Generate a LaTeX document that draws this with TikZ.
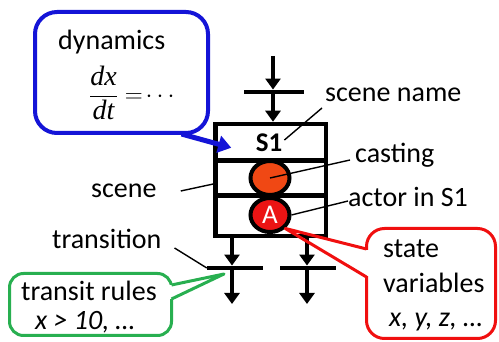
\documentclass[tikz,border=0pt]{standalone}
\usepackage{fontspec}
\setmainfont{Carlito}
\newfontfamily\mathtext{Liberation Serif}
\usetikzlibrary{arrows.meta,shapes.geometric}
\definecolor{noteblue}{RGB}{20,20,215}
\definecolor{notegreen}{RGB}{40,175,80}
\definecolor{notered}{RGB}{240,15,15}
\definecolor{castfill}{RGB}{240,72,20}
\definecolor{actorfill}{RGB}{235,20,20}
\newcommand{\mvar}[1]{\hbox{\mathtext\itshape #1}}
\tikzset{
  txt/.style={anchor=base west,inner sep=0pt,font=\fontsize{28}{32}\selectfont},
  itxt/.style={txt,font=\itshape\fontsize{28}{32}\selectfont},
  flow/.style={line width=4pt,-{Triangle[length=11pt,width=15pt]}},
  bar/.style={fill=black,inner sep=0pt,minimum height=4.5pt},
  ptr/.style={line width=1.4pt},
  token/.style={ellipse,draw,line width=4pt,inner sep=0pt,minimum width=39pt,minimum height=34pt},
  note/.style={draw,line width=3pt,rounded corners=#1,inner sep=0pt},
}
\begin{document}
\begin{tikzpicture}[x=1pt,y=-1pt]
\useasboundingbox (0,0) rectangle (499,342);

   % scene with its rows
   \node[draw,line width=4.5pt,inner sep=0pt,minimum width=110.5pt,minimum height=112pt] at (270.75,180) (scene) {};
   \coordinate (row1) at (0,160.5);
   \coordinate (row2) at (0,195.5);
   \draw[line width=4.5pt] (scene.west |- row1) -- (scene.east |- row1);
   \draw[line width=4.5pt] (scene.west |- row2) -- (scene.east |- row2);
   \node[anchor=base,inner sep=0pt,font=\bfseries\fontsize{27}{30}\selectfont] at (269,152) (sname) {S1};
   \node[token,fill=castfill] at (270,178) (cast) {};
   \node[token,fill=actorfill,text=white,font=\fontsize{27}{30}\selectfont] at (270,215) (actor) {A};

   % transitions
   \node[bar,minimum width=60pt] at (274,92) (t0) {};
   \node[bar,minimum width=56pt] at (235,268) (t1) {};
   \node[bar,minimum width=56pt] at (307.5,268) (t2) {};
   \coordinate (in0) at (273,56);
   \coordinate (out1) at (232,304);
   \coordinate (out2) at (307,304);

   \draw[flow] (in0) -- (t0.north -| in0);
   \draw[flow] (t0.south -| in0) -- (scene.north -| in0);
   \draw[flow] (scene.south -| out1) -- (t1.north -| out1);
   \draw[flow] (t1.south -| out1) -- (out1);
   \draw[flow] (scene.south -| out2) -- (t2.north -| out2);
   \draw[flow] (t2.south -| out2) -- (out2);

   % labels
   \node[txt] at (325,102) (namelbl) {scene name};
   \node[txt] at (355,163) (castlbl) {casting};
   \node[txt] at (348,207) (actlbl) {actor in S1};
   \node[txt] at (91,198) (scnlbl) {scene};
   \node[txt] at (52,249) (translbl) {transition};

   \draw[ptr] ([shift={(-3,6)}]namelbl.base west) -- ([shift={(2,-12)}]sname.base east);
   \draw[ptr] ([shift={(-5,-3)}]castlbl.base west) -- (cast.center);
   \draw[ptr] ([shift={(0,-6)}]actlbl.base west) -- (actor.east);
   \draw[ptr] ([shift={(24,-7)}]scnlbl.base east) -- ([shift={(0,4)}]scene.west);
   \draw[ptr] ([shift={(13,-1)}]translbl.base east) -- (t1.west);

   % dynamics note
   \node[note=22,draw=noteblue,line width=4pt,minimum width=173pt,minimum height=121pt] at (121.5,72.5) (dynbox) {};
   \node[txt] at (58,50) (dynlbl) {dynamics};
   \node[anchor=west,inner sep=0pt,font=\fontsize{28}{32}\selectfont] at (89,93) (dxdt) {$\displaystyle\frac{\mvar{dx}}{\mvar{dt}}=\!\cdots$};
   \draw[noteblue,line width=5pt,-{Triangle[length=13pt,width=17pt]}] ([shift={(60,-1)}]dynbox.south) -- ([shift={(18,26)}]scene.north west);

   % transit rules note
   \node[note=14,draw=notegreen,minimum width=162pt,minimum height=62pt] at (90.5,304.5) (rulebox) {};
   \node[txt] at (21,301) (rulelbl) {transit rules};
   \node[itxt] at (35,330) (rulecond) {x > 10, …};
   \coordinate (rtip) at (224,274);
   \fill[white] (168,285) rectangle (175,299);
   \draw[notegreen,line width=3pt,line join=round] (171.5,285) -- (rtip) -- (171.5,299);

   % state variables note
   \node[note=18,draw=notered,minimum width=129pt,minimum height=110pt] at (431,283.5) (varbox) {};
   \node[txt] at (383,258) (statelbl) {state};
   \node[txt] at (383,293) (varlbl) {variables};
   \node[itxt] at (389,327) (varlist) {x, y, z, …};
   \fill[white] (363,250) rectangle (370,276);
   \draw[notered,line width=3pt,line join=round] (366.5,249) -- (actor.south east) -- (366.5,277);

\end{tikzpicture}
\end{document}
